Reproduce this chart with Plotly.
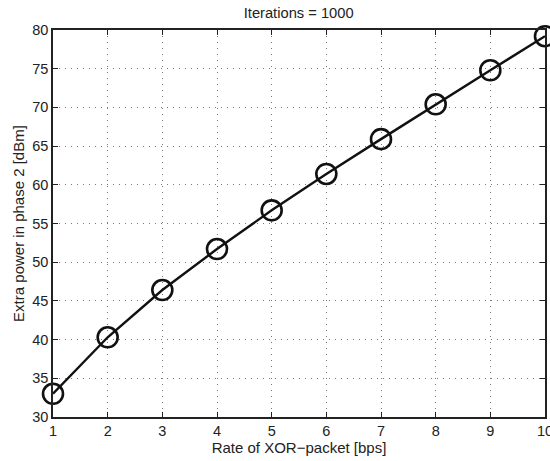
import plotly.graph_objects as go

rate = [1, 2, 3, 4, 5, 6, 7, 8, 9, 10]
extra_power = [33.0, 40.3, 46.4, 51.7, 56.7, 61.4, 65.9, 70.4, 74.8, 79.2]
x_ticks = [1, 2, 3, 4, 5, 6, 7, 8, 9, 10]
y_ticks = [30, 35, 40, 45, 50, 55, 60, 65, 70, 75, 80]

fig = go.Figure()
fig.add_trace(go.Scatter(
    x=rate, y=extra_power, mode="lines+markers",
    line=dict(color="#111111", width=2.4),
    marker=dict(symbol="circle-open", size=20, color="#111111", line=dict(width=2.6)),
    cliponaxis=False, showlegend=False,
))

font = "Liberation Sans, Arial, sans-serif"
axis_common = dict(
    showline=True, linecolor="#222222", linewidth=1.5, mirror="ticks",
    ticks="inside", ticklen=5, tickcolor="#222222",
    showgrid=True, gridcolor="#777777", griddash="1px,5px", gridwidth=1,
    zeroline=False, automargin=False, ticklabeloverflow="allow",
    tickfont=dict(family=font, size=14.5, color="#222222"),
)

fig.update_layout(
    width=550, height=461,
    margin=dict(l=53, r=5, t=30, b=44),
    paper_bgcolor="white", plot_bgcolor="white",
    title=dict(text="Iterations = 1000", x=0.543, xanchor="center", y=0.972, yanchor="middle",
               font=dict(family=font, size=14.7, color="#222222")),
    xaxis=dict(range=[1, 10], tickvals=x_ticks,
               title=dict(text="Rate of XOR\u2212packet [bps]", standoff=1,
                          font=dict(family=font, size=15, color="#222222")),
               **axis_common),
    yaxis=dict(range=[30, 80], tickvals=y_ticks,
               title=dict(text="Extra power in phase 2 [dBm]", standoff=4,
                          font=dict(family=font, size=15, color="#222222")),
               **axis_common),
)

fig.write_html("out.html")
